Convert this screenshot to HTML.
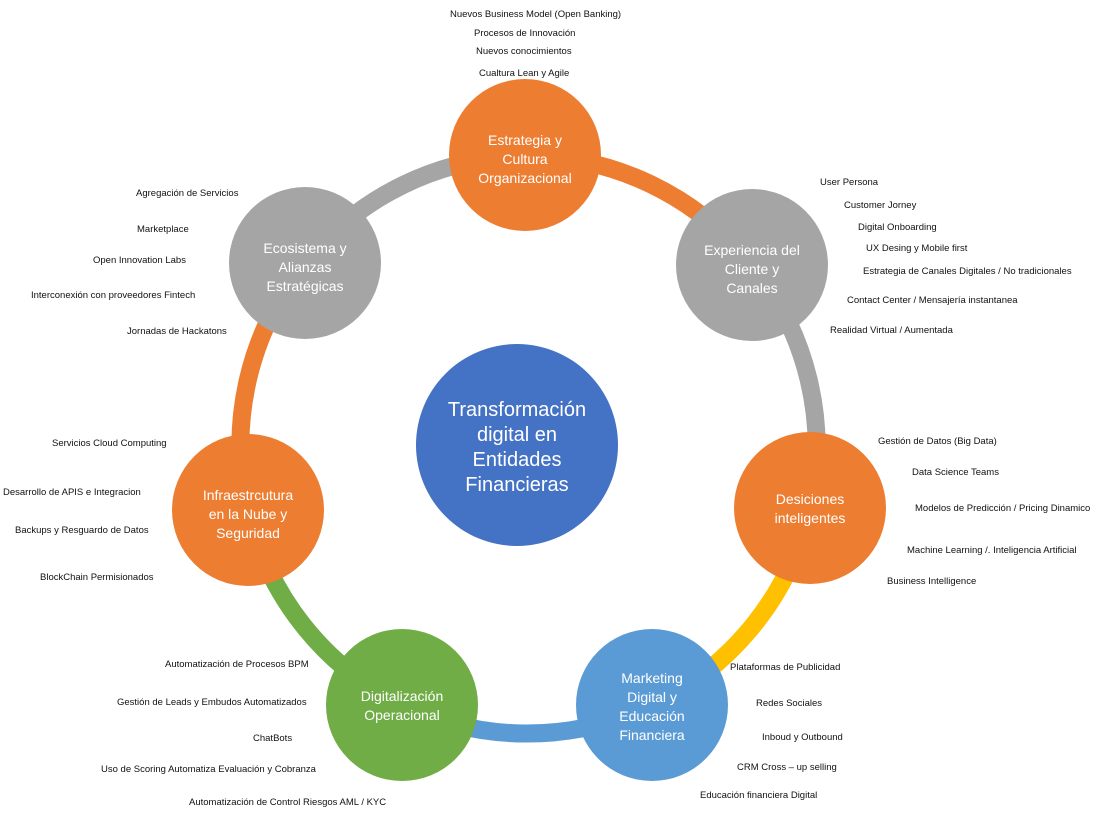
<!DOCTYPE html>
<html><head><meta charset="utf-8"><style>
body{margin:0;background:#fff;width:1107px;height:819px;overflow:hidden}
svg text{font-family:"Liberation Sans",sans-serif}
</style></head><body>
<svg width="1107" height="819" viewBox="0 0 1107 819" xmlns="http://www.w3.org/2000/svg">
<g fill="none" stroke-width="18">
<path d="M525 156 A288 288 0 0 1 752 265" stroke="#ED7D31"/>
<path d="M752 265 A288 288 0 0 1 810 508" stroke="#A5A5A5"/>
<path d="M810 508 A288 288 0 0 1 652 705" stroke="#FFC000"/>
<path d="M652 705 A288 288 0 0 1 402 705" stroke="#5B9BD5"/>
<path d="M402 705 A288 288 0 0 1 248 510" stroke="#70AD47"/>
<path d="M248 510 A288 288 0 0 1 305 263" stroke="#ED7D31"/>
<path d="M305 263 A288 288 0 0 1 525 156" stroke="#A5A5A5"/>
</g>
<circle cx="517" cy="445" r="101" fill="#4472C4"/>
<circle cx="525" cy="155" r="76" fill="#ED7D31"/>
<circle cx="752" cy="265" r="76" fill="#A5A5A5"/>
<circle cx="810" cy="508" r="76" fill="#ED7D31"/>
<circle cx="652" cy="705" r="76" fill="#5B9BD5"/>
<circle cx="402" cy="705" r="76" fill="#70AD47"/>
<circle cx="248" cy="510" r="76" fill="#ED7D31"/>
<circle cx="305" cy="263" r="76" fill="#A5A5A5"/>
<g fill="#fff" text-anchor="middle" font-size="20">
<text x="517" y="416">Transformación</text>
<text x="517" y="441">digital en</text>
<text x="517" y="466">Entidades</text>
<text x="517" y="491">Financieras</text>
</g>
<g fill="#fff" text-anchor="middle" font-size="14">
<text x="525" y="145">Estrategia y</text><text x="525" y="164">Cultura</text><text x="525" y="183">Organizacional</text>
<text x="752" y="255">Experiencia del</text><text x="752" y="274">Cliente y</text><text x="752" y="293">Canales</text>
<text x="810" y="504">Desiciones</text><text x="810" y="523">inteligentes</text>
<text x="652" y="683">Marketing</text><text x="652" y="702">Digital y</text><text x="652" y="721">Educación</text><text x="652" y="740">Financiera</text>
<text x="402" y="701">Digitalización</text><text x="402" y="720">Operacional</text>
<text x="248" y="500">Infraestrcutura</text><text x="248" y="519">en la Nube y</text><text x="248" y="538">Seguridad</text>
<text x="305" y="253">Ecosistema y</text><text x="305" y="272">Alianzas</text><text x="305" y="291">Estratégicas</text>
</g>
<g fill="#111" font-size="9.5">
<text x="450" y="17">Nuevos Business Model (Open Banking)</text>
<text x="474" y="36">Procesos de Innovación</text>
<text x="476" y="54">Nuevos conocimientos</text>
<text x="479" y="76">Cualtura Lean y Agile</text>
<text x="820" y="185">User Persona</text>
<text x="844" y="208">Customer Jorney</text>
<text x="858" y="230">Digital Onboarding</text>
<text x="866" y="251">UX Desing y  Mobile first</text>
<text x="863" y="274">Estrategia de Canales Digitales / No tradicionales</text>
<text x="847" y="303">Contact Center /  Mensajería instantanea</text>
<text x="830" y="333">Realidad Virtual / Aumentada</text>
<text x="878" y="444">Gestión de Datos (Big Data)</text>
<text x="912" y="475">Data Science Teams</text>
<text x="915" y="511">Modelos de Predicción / Pricing Dinamico</text>
<text x="907" y="553">Machine Learning /. Inteligencia Artificial</text>
<text x="887" y="584">Business Intelligence</text>
<text x="730" y="670">Plataformas de Publicidad</text>
<text x="756" y="706">Redes Sociales</text>
<text x="762" y="740">Inboud y Outbound</text>
<text x="737" y="770">CRM Cross – up selling</text>
<text x="700" y="798">Educación financiera Digital</text>
<text x="165" y="667">Automatización de Procesos BPM</text>
<text x="117" y="705">Gestión de Leads y Embudos Automatizados</text>
<text x="253" y="741">ChatBots</text>
<text x="101" y="772">Uso de Scoring Automatiza Evaluación y Cobranza</text>
<text x="189" y="805">Automatización de Control Riesgos AML / KYC</text>
<text x="52" y="446">Servicios Cloud Computing</text>
<text x="3" y="495">Desarrollo de APIS e Integracion</text>
<text x="15" y="533">Backups y Resguardo de Datos</text>
<text x="40" y="580">BlockChain Permisionados</text>
<text x="136" y="196">Agregación de Servicios</text>
<text x="137" y="232">Marketplace</text>
<text x="93" y="263">Open Innovation Labs</text>
<text x="31" y="298">Interconexión con proveedores Fintech</text>
<text x="127" y="334">Jornadas de Hackatons</text>
</g>
</svg>
</body></html>
